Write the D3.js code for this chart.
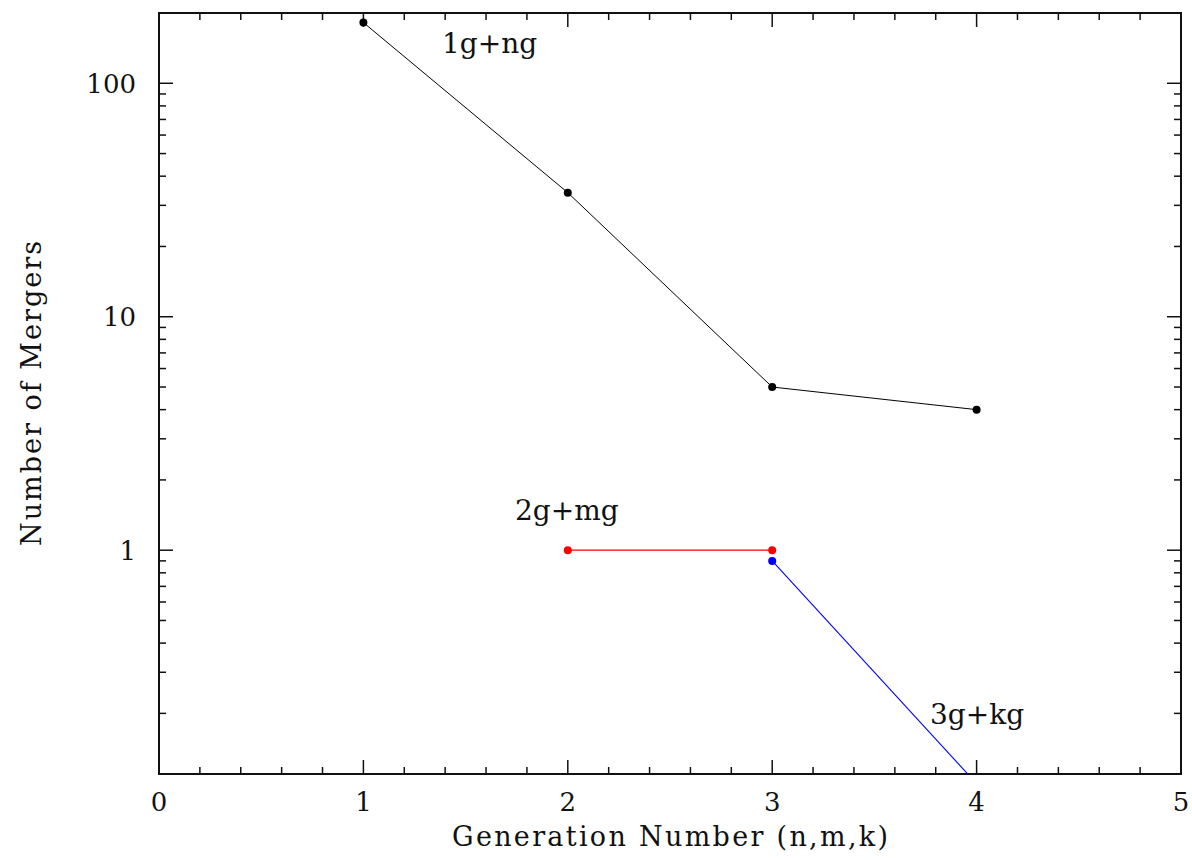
<!DOCTYPE html>
<html>
<head>
<meta charset="utf-8">
<script src="https://cdn.jsdelivr.net/npm/d3@7"></script>
<style>
  html, body { margin: 0; padding: 0; background: #fff; }
  svg { display: block; }
  text { font-family: "DejaVu Serif", "Liberation Serif", serif; fill: #111; }
</style>
</head>
<body>
<svg id="chart" width="1192" height="860"></svg>
<script>
// Merger counts per generation number
const genFirst = [1, 2, 3, 4];
const mergersFirst = [182, 34, 5, 4];      // 1g+ng

const genSecond = [2, 3];
const mergersSecond = [1, 1];              // 2g+mg

const genThird = [3, 4];
const mergersThird = [0.9, 0.1];           // 3g+kg

const xTickValues = [0, 1, 2, 3, 4, 5];
const yTickValues = [1, 10, 100];

const seriesLabels = ["1g+ng", "2g+mg", "3g+kg"];
const seriesColors = ["#000000", "#ff0000", "#0000ff"];

const svg = d3.select("#chart");
const margin = { left: 159, right: 11, top: 13, bottom: 86 };
const W = 1192, H = 860;
const x0 = margin.left, x1 = W - margin.right;
const y0 = margin.top, y1 = H - margin.bottom;

const x = d3.scaleLinear().domain([0, 5]).range([x0, x1]);
const y = d3.scaleLog().domain([0.11, 200]).range([y1, y0]);

// clip region for data marks
svg.append("defs").append("clipPath").attr("id", "plotClip")
  .append("rect").attr("x", x0).attr("y", y0).attr("width", x1 - x0).attr("height", y1 - y0);

// ticks: majors/minors on all four sides
const majorLen = 14, minorLen = 7;
const xMinor = d3.range(0, 5.0001, 0.2).filter(v => Math.abs(v - Math.round(v)) > 1e-6);
const yMinor = [];
[0.1, 1, 10, 100].forEach(d => { for (let k = 2; k <= 9; k++) { const v = d * k; if (v >= 0.11 && v <= 200) yMinor.push(v); } });

const tickG = svg.append("g").attr("stroke", "#111").attr("stroke-width", 1.5);
function xt(v, len) {
  tickG.append("line").attr("x1", x(v)).attr("x2", x(v)).attr("y1", y1).attr("y2", y1 - len);
  tickG.append("line").attr("x1", x(v)).attr("x2", x(v)).attr("y1", y0).attr("y2", y0 + len);
}
function yt(v, len) {
  tickG.append("line").attr("y1", y(v)).attr("y2", y(v)).attr("x1", x0).attr("x2", x0 + len);
  tickG.append("line").attr("y1", y(v)).attr("y2", y(v)).attr("x1", x1).attr("x2", x1 - len);
}
xTickValues.forEach(v => xt(v, majorLen));
xMinor.forEach(v => xt(v, minorLen));
yTickValues.forEach(v => yt(v, majorLen));
yMinor.forEach(v => yt(v, minorLen));

// frame
svg.append("rect").attr("x", x0).attr("y", y0).attr("width", x1 - x0).attr("height", y1 - y0)
  .attr("fill", "none").attr("stroke", "#111").attr("stroke-width", 2);

// tick labels
svg.append("g").selectAll("text").data(xTickValues).join("text")
  .attr("x", d => x(d)).attr("y", 811).attr("text-anchor", "middle")
  .attr("font-size", 26).text(d => d);
svg.append("g").selectAll("text").data(yTickValues).join("text")
  .attr("x", 136).attr("y", d => y(d)).attr("dy", "0.36em").attr("text-anchor", "end")
  .attr("font-size", 26).text(d => d3.format("d")(d));

// axis titles
svg.append("text").attr("x", (x0 + x1) / 2).attr("y", 846).attr("text-anchor", "middle")
  .attr("font-size", 27).attr("textLength", 436).attr("lengthAdjust", "spacing")
  .text("Generation Number (n,m,k)");
svg.append("text").attr("transform", `translate(41,${(y0 + y1) / 2}) rotate(-90)`)
  .attr("text-anchor", "middle").attr("font-size", 27)
  .attr("textLength", 305).attr("lengthAdjust", "spacing")
  .text("Number of Mergers");

// data series
const series = [
  { xs: genFirst, ys: mergersFirst, width: 1 },
  { xs: genSecond, ys: mergersSecond, width: 1.3 },
  { xs: genThird, ys: mergersThird, width: 1.1 }
];
const line = d3.line().x(d => x(d[0])).y(d => y(d[1]));
const dataG = svg.append("g").attr("clip-path", "url(#plotClip)");
series.forEach((s, i) => {
  const pts = s.xs.map((v, j) => [v, s.ys[j]]);
  dataG.append("path").datum(pts).attr("d", line)
    .attr("fill", "none").attr("stroke", seriesColors[i]).attr("stroke-width", s.width);
  dataG.selectAll(null).data(pts).join("circle")
    .attr("cx", d => x(d[0])).attr("cy", d => y(d[1])).attr("r", 4)
    .attr("fill", seriesColors[i]);
});

// series annotations
const labelPos = [[442, 53], [515, 520], [930, 724]];
svg.append("g").selectAll("text").data(seriesLabels).join("text")
  .attr("x", (d, i) => labelPos[i][0]).attr("y", (d, i) => labelPos[i][1])
  .attr("font-size", 28).text(d => d);
</script>
</body>
</html>
